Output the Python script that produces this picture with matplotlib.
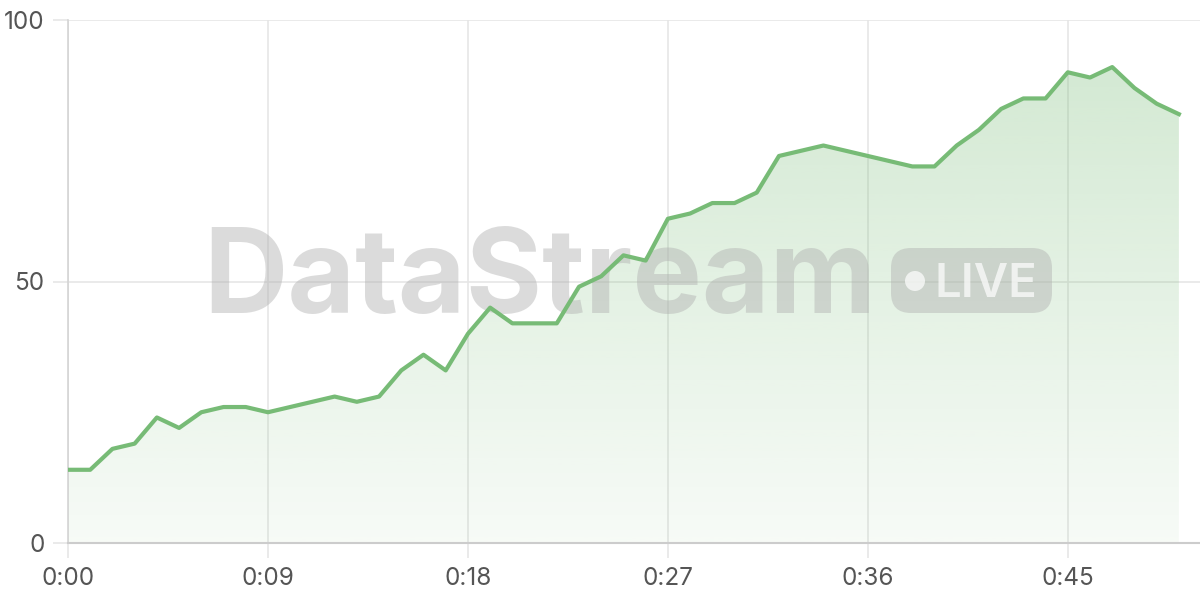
import matplotlib
matplotlib.use("Agg")
import matplotlib.pyplot as plt
import numpy as np
from matplotlib.patches import FancyBboxPatch, Circle
from matplotlib.transforms import IdentityTransform

# seconds and values
seconds = [0, 1, 2, 3, 4, 5, 6, 7, 8, 9, 12, 13, 14, 15, 16, 17, 18, 19, 20, 22,
           23, 24, 25, 26, 27, 28, 29, 30, 31, 32, 34, 38, 39, 40, 41, 42, 43, 44,
           45, 46, 47, 48, 49, 50]
values = [14, 14, 18, 19, 24, 22, 25, 26, 26, 25, 28, 27, 28, 33, 36, 33, 40, 45, 42, 42,
          49, 51, 55, 54, 62, 63, 65, 65, 67, 74, 76, 72, 72, 76, 79, 83, 85, 85,
          90, 89, 91, 87, 84, 82]
xticks = [0, 9, 18, 27, 36, 45]
xtick_labels = ["0:00", "0:09", "0:18", "0:27", "0:36", "0:45"]
yticks = [0, 50, 100]

line_color = "#77bb76"
grid_color = "#e6e6e6"
text_color = "#555555"

plt.rcParams['font.family'] = ['Inter', 'DejaVu Sans']

fig = plt.figure(figsize=(12, 6), dpi=100)
ax = fig.add_axes([68 / 1200, 57 / 600, 1132 / 1200, 523 / 600])
ax.set_xlim(0, 50.95)
ax.set_ylim(0, 100)

# gradient fill under the line
x = np.array(seconds, dtype=float)
y = np.array(values, dtype=float)
poly = ax.fill_between(x, y, 0, color="none", lw=0)
grad = np.linspace(0, 1, 256).reshape(-1, 1)
rgba = np.zeros((256, 1, 4))
rgba[..., 0] = 0x77 / 255
rgba[..., 1] = 0xbb / 255
rgba[..., 2] = 0x76 / 255
rgba[..., 3] = 0.06 + 0.26 * grad
img = ax.imshow(rgba, extent=[0, 50, 0, max(values)], origin="lower",
                aspect="auto", zorder=1)
clip = poly.get_paths()[0]
img.set_clip_path(clip, transform=ax.transData)

# watermark
ax.text(540 / 1200, 1 - 313 / 600, "DataStream", transform=fig.transFigure,
        ha="center", va="baseline", fontsize=84, fontweight="bold",
        color="#b0b0b0", alpha=0.45, zorder=2)
px = IdentityTransform()
box = FancyBboxPatch((891, 287), 161, 65,
                     boxstyle="round,pad=0,rounding_size=20",
                     transform=px, facecolor="#b0b0b0", alpha=0.45,
                     edgecolor="none", zorder=2)
fig.patches.append(box)
dot = Circle((915, 319), 10, transform=px, facecolor="white", alpha=0.7,
             edgecolor="none", zorder=3)
fig.patches.append(dot)
fig.text(986 / 1200, 1 - 297 / 600, "LIVE", ha="center", va="baseline",
         fontsize=34, fontweight="semibold", color="white", alpha=0.7, zorder=3)

ax.plot(x, y, color=line_color, lw=3, zorder=4, solid_joinstyle="round")

ax.set_xticks(xticks)
ax.set_xticklabels(xtick_labels)
ax.set_yticks(yticks)
ax.grid(True, color=grid_color, lw=1.2, zorder=0)
ax.set_axisbelow(True)
ax.tick_params(axis="both", length=11, width=1.2, color=grid_color,
               labelcolor=text_color, labelsize=17.5)
ax.tick_params(axis="x", pad=6)
ax.tick_params(axis="y", pad=6)
for side in ["top", "right"]:
    ax.spines[side].set_visible(False)
ax.spines["left"].set_color("#d4d4d4")
ax.spines["left"].set_linewidth(1.2)
ax.spines["bottom"].set_color("#cccccc")
ax.spines["bottom"].set_linewidth(1.5)

fig.savefig("out.png", dpi=100)
